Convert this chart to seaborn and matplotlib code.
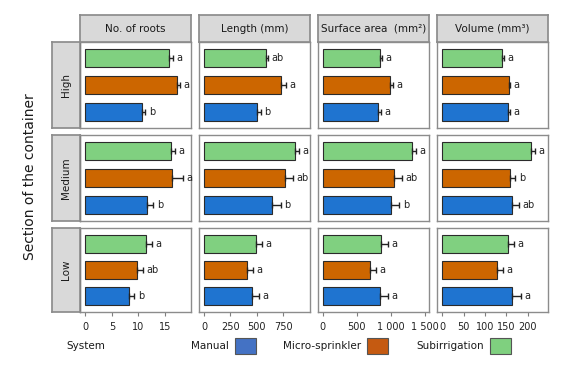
import matplotlib
matplotlib.use("Agg")
import matplotlib.pyplot as plt
from matplotlib.patches import Rectangle
import seaborn as sns
import pandas as pd
import numpy as np

sns.set_theme(style="white")
plt.rcParams['font.family'] = ['DejaVu Sans']

# ---------------- data ----------------
sections = ["High", "Medium", "Low"]
systems = ["Subirrigation", "Micro-sprinkler", "Manual"]      # top -> bottom in each panel
legend_order = ["Manual", "Micro-sprinkler", "Subirrigation"]
variables = ["No. of roots", "Length (mm)", "Surface area  (mm²)", "Volume (mm³)"]

roots_mean = {"High": [15.85, 17.3, 10.75], "Medium": [16.2, 16.3, 11.7], "Low": [11.45, 9.75, 8.3]}
roots_se = {"High": [0.65, 0.6, 0.55], "Medium": [0.6, 2.1, 1.1], "Low": [1.05, 1.15, 0.95]}
roots_let = {"High": ["a", "a", "b"], "Medium": ["a", "a", "b"], "Low": ["a", "ab", "b"]}

length_mean = {"High": [587, 729, 499], "Medium": [862, 765, 641], "Low": [490, 404, 454]}
length_se = {"High": [16, 44, 41], "Medium": [41, 78, 88], "Low": [62, 63, 70]}
length_let = {"High": ["ab", "a", "b"], "Medium": ["a", "ab", "b"], "Low": ["a", "a", "a"]}

surface_mean = {"High": [843, 990, 818], "Medium": [1309, 1053, 1004], "Low": [853, 696, 843]}
surface_se = {"High": [24, 49, 35], "Medium": [63, 118, 123], "Low": [103, 88, 113]}
surface_let = {"High": ["a", "a", "a"], "Medium": ["a", "ab", "b"], "Low": ["a", "a", "a"]}

volume_mean = {"High": [140.5, 156, 154], "Medium": [208.5, 158, 162.5], "Low": [153, 127.4, 164]}
volume_se = {"High": [4.5, 3, 4.5], "Medium": [8.5, 13, 17.5], "Low": [15.6, 14, 19.6]}
volume_let = {"High": ["a", "a", "a"], "Medium": ["a", "b", "ab"], "Low": ["a", "a", "a"]}

tick_values = [[0, 5, 10, 15], [0, 250, 500, 750], [0, 500, 1000, 1500], [0, 50, 100, 150, 200]]
tick_labels = [["0", "5", "10", "15"], ["0", "250", "500", "750"],
               ["0", "500", "1 000", "1 500"], ["0", "50", "100", "150", "200"]]

means = [roots_mean, length_mean, surface_mean, volume_mean]
ses = [roots_se, length_se, surface_se, volume_se]
letters = [roots_let, length_let, surface_let, volume_let]

bar_colors = {"Subirrigation": "#80D080", "Micro-sprinkler": "#CC6600", "Manual": "#1F74D0"}
legend_colors = {"Manual": "#4472C4", "Micro-sprinkler": "#C55A11", "Subirrigation": "#7FD07F"}

# ---------------- layout ----------------
W, H = 587, 369
fig = plt.figure(figsize=(W / 100, H / 100), dpi=100)

col_x = [80, 199, 318, 437]
col_w = 111
row_y = [42, 135, 228]
row_h = [86, 86, 84]
xlims = [(-1.0, 19.9), (-47, 1004), (-69, 1563), (-12.4, 247.5)]

def fx(x):
    return x / W

def fy(ytop, h):
    return 1 - (ytop + h) / H

strip_bg = "#D9D9D9"
border = "#8C8C8C"

for r, sec in enumerate(sections):
    for c in range(4):
        ax = fig.add_axes([fx(col_x[c]), fy(row_y[r], row_h[r]), col_w / W, row_h[r] / H])
        df = pd.DataFrame({"System": systems, "value": means[c][sec]})
        sns.barplot(data=df, x="value", y="System", order=systems, hue="System",
                    palette=bar_colors, orient="h", width=0.68, edgecolor="#2b2b2b",
                    linewidth=0.8, errorbar=None, legend=False, saturation=1, ax=ax)
        pos = np.arange(len(systems))
        m = np.array(means[c][sec], dtype=float)
        s = np.array(ses[c][sec], dtype=float)
        ax.errorbar(m, pos, xerr=[np.zeros_like(s), s], fmt="none", ecolor="#222222",
                    elinewidth=1.0, capsize=2.5, capthick=1.0)
        for i in range(len(systems)):
            ax.annotate(letters[c][sec][i], (m[i] + s[i], pos[i]), xytext=(2.5, 0),
                        textcoords="offset points", va="center", ha="left",
                        fontsize=7, color="#222222")
        ax.set_xlim(*xlims[c])
        ax.set_ylim(2.6, -0.6)
        ax.set_ylabel("")
        ax.set_xlabel("")
        ax.set_yticks([])
        for sp in ax.spines.values():
            sp.set_color(border)
            sp.set_linewidth(1.0)
        if c == 0:
            ax.spines["left"].set_color("#333333")
        if r == len(sections) - 1:
            ax.set_xticks(tick_values[c])
            ax.set_xticklabels(tick_labels[c], fontsize=7, color="#222222")
            ax.tick_params(axis="x", bottom=True, length=3, width=0.8, color="#7f7f7f", pad=4)
        else:
            ax.set_xticks([])

    # left strip
    sax = fig.add_axes([fx(52), fy(row_y[r], row_h[r]), 28 / W, row_h[r] / H])
    sax.set_facecolor(strip_bg)
    sax.set_xticks([]); sax.set_yticks([])
    for sp in sax.spines.values():
        sp.set_color(border)
    sax.text(0.5, 0.5, sec, rotation=90, ha="center", va="center", fontsize=7.5,
             color="#1a1a1a", transform=sax.transAxes)

# top strips
for c in range(4):
    tax = fig.add_axes([fx(col_x[c]), fy(15, 27), col_w / W, 27 / H])
    tax.set_facecolor(strip_bg)
    tax.set_xticks([]); tax.set_yticks([])
    for sp in tax.spines.values():
        sp.set_color(border)
    tax.text(0.5, 0.5, variables[c], ha="center", va="center", fontsize=7.5,
             color="#1a1a1a", transform=tax.transAxes)

# y label
fig.text(fx(30), 1 - 177 / H, "Section of the container", rotation=90,
         ha="center", va="center", fontsize=10, color="#1a1a1a")

# legend
fig.text(fx(66), 1 - 346 / H, "System", ha="left", va="center", fontsize=7.5, color="#1a1a1a")
box_x = {"Manual": 235, "Micro-sprinkler": 367, "Subirrigation": 490}
for name in legend_order:
    bx = box_x[name]
    fig.text(fx(bx - 6), 1 - 346 / H, name, ha="right", va="center", fontsize=7.5, color="#1a1a1a")
    fig.patches.append(Rectangle((fx(bx), fy(338, 16)), 21 / W, 16 / H,
                                 transform=fig.transFigure, facecolor=legend_colors[name],
                                 edgecolor="#555555", linewidth=0.8))

fig.savefig("out.png", dpi=100)
